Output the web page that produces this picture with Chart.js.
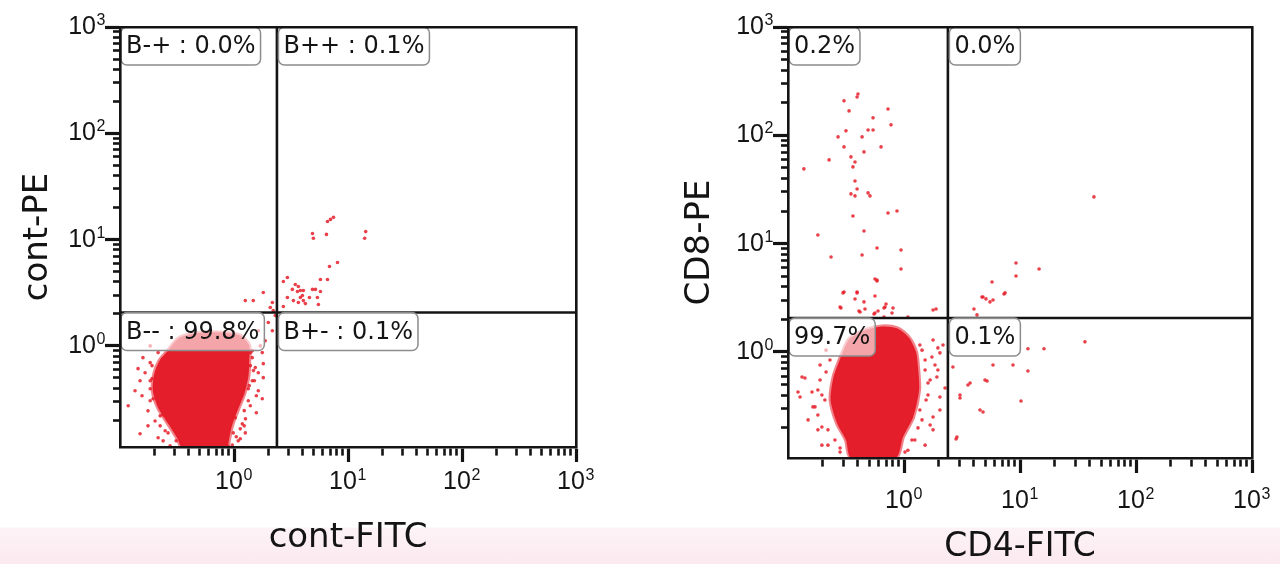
<!DOCTYPE html>
<html><head><meta charset="utf-8">
<script src="https://cdn.jsdelivr.net/npm/chart.js@4/dist/chart.umd.min.js"></script>
<style>
html,body{margin:0;padding:0;}
body{width:1280px;height:564px;overflow:hidden;position:relative;
 background:linear-gradient(to bottom,#ffffff 0px,#ffffff 527px,#fdf3f6 528px,#fbe9ef 564px);}
.c{position:absolute;top:0;width:640px;height:564px;}
canvas{display:block;}
</style></head><body>
<div class="c" style="left:0"><canvas id="leftPlot" width="640" height="564"></canvas></div>
<div class="c" style="left:640px"><canvas id="rightPlot" width="640" height="564"></canvas></div>
<script>
// ---------- tick values / labels ----------
const TICK_VALUES = [0.2,0.3,0.4,0.5,0.6,0.7,0.8,0.9,1,2,3,4,5,6,7,8,9,10,20,30,40,50,60,70,80,90,100,200,300,400,500,600,700,800,900,1000];
const MAJOR_TICK_VALUES = [1,10,100,1000];
const MAJOR_TICK_BASES = ['10','10','10','10'];
const MAJOR_TICK_EXPONENTS = ['0','1','2','3'];

// ---------- left panel (control) ----------
const leftAxisTitles = ['cont-FITC','cont-PE'];
const leftQuadrantTexts = ['B-+ : 0.0%','B++ : 0.1%','B-- : 99.8%','B+- : 0.1%'];
const leftGate = [2.38, 2.06];
const leftRangeX = [0.1, 1000];
const leftRangeY = [0.112, 1000];
// dense core of events (outline of the solid region)
const leftCoreOutline = [[0.255,0.865],[0.330,1.19],[0.505,1.33],[0.838,1.33],[1.15,1.24],[1.36,1.01],[1.36,0.727],[1.34,0.525],[1.24,0.363],[1.09,0.256],[0.96,0.177],[0.90,0.128],[0.87,0.112],[0.35,0.112],[0.32,0.134],[0.265,0.185],[0.216,0.262],[0.194,0.379],[0.200,0.549],[0.222,0.727]];
// individual sparse events
const leftEvents = [[0.144,0.611],[0.1355,0.379],[0.176,0.177],[0.159,0.776],[1.446,0.776],[1.537,0.625],[1.633,0.379],[1.807,0.503],[1.334,0.305],[1.182,0.185],[1.089,0.128],[0.216,0.137],[0.249,0.159],[0.150,0.149],[1.807,0.681],[1.446,0.471],[1.026,0.211],[0.184,1.0],[1.70,1.0],[0.184,0.305],[1.256,0.152],
[2.0,1.66],[2.17,1.39],[1.88,1.12],[1.633,1.39],[1.77,0.865],
[1.40,0.865],[1.48,0.586],[1.36,0.423],[1.23,0.246],[0.985,0.152],[0.412,0.117],[0.311,0.159],[0.239,0.225],[0.195,0.318],[0.184,0.471],[0.191,0.652],[0.216,0.865],[0.118,0.274],[1.57,0.235],[1.77,0.318],
[0.166,0.560],[0.184,0.396],[0.156,0.340],[0.176,0.245],[0.203,0.197],[0.225,0.177],[0.184,0.696],[0.216,0.611],[0.191,0.492],[0.150,0.471],[0.239,0.128],[0.275,0.115],[0.311,0.128],[0.225,0.220],[0.264,0.152],
[1.39,0.652],[1.51,0.471],[1.57,0.340],[1.39,0.274],[1.26,0.206],[1.135,0.166],[1.047,0.140],[1.334,0.396],[1.633,0.560],[1.446,0.903],[1.23,0.177],[0.966,0.117],[0.890,0.113],[1.135,0.134],
[1.256,2.67],[1.476,2.67],[1.807,3.18],[2.17,2.56],[2.08,2.30],[2.21,2.15],[2.30,1.93],[2.71,4.04],[2.94,4.40],[3.25,3.40],[3.45,3.78],[3.67,3.62],[3.82,3.32],[3.60,3.25],[4.06,3.32],[3.98,2.98],[3.82,2.85],[4.06,2.67],[3.32,2.67],[2.94,2.85],[4.88,3.40],[5.18,3.40],[5.73,3.25],[4.59,2.85],[5.39,2.85],[5.50,2.45],[4.23,2.50],[3.67,2.56],[2.71,2.35],[5.73,4.22],[6.61,4.22],[6.88,5.59],[8.09,6.10],[4.88,11.4],[4.97,10.3],[6.47,11.2],[6.61,14.8],[7.02,15.5],[7.46,16.2],[14.3,11.9],[14.0,10.3]];

// ---------- right panel (CD4 / CD8) ----------
const rightAxisTitles = ['CD4-FITC','CD8-PE'];
const rightQuadrantTexts = ['0.2%','0.0%','99.7%','0.1%'];
const rightGate = [2.39, 2.06];
const rightRangeX = [0.1, 1000];
const rightRangeY = [0.105, 1000];
const rightCoreOutline = [[0.285,0.899],[0.335,1.30],[0.455,1.58],[0.646,1.72],[0.880,1.65],[1.10,1.36],[1.27,1.0],[1.32,0.727],[1.35,0.446],[1.20,0.251],[0.980,0.164],[0.850,0.105],[0.350,0.105],[0.316,0.154],[0.264,0.221],[0.233,0.360],[0.247,0.588]];
const rightEvents = [[0.401,241],[0.394,226],[0.304,208],[0.336,168],[0.728,175],[0.541,145],[0.773,125],[0.316,110],[0.490,112],[0.541,112],[0.270,96.7],[0.435,96.7],[0.304,78.2],[0.634,78.2],[0.452,70.3],[0.226,59.3],[0.349,63.2],[0.378,56.8],[0.363,51.1],[0.137,49.0],[0.378,37.9],[0.394,32.0],[0.349,28.8],[0.378,27.6],[0.490,29.4],[0.509,27.6],[0.363,18.0],[0.728,19.2],[0.870,20.0],[0.181,12.0],[0.452,13.1],[0.585,9.12],[0.942,8.75],[0.235,7.54],[0.435,7.86],[0.942,5.84],[0.562,4.72],[0.585,4.52],[0.304,3.58],[0.394,3.58],[0.562,3.29],[0.378,3.08],[0.452,2.90],[0.700,2.77],[0.286,2.55],[0.672,2.55],[0.804,2.55],[0.461,2.49],[0.409,2.39],[0.597,2.39],[1.89,2.49],[0.788,2.29],[0.551,2.24],[0.672,2.10],[1.08,2.10],[0.298,3.51],[0.394,3.51],[0.281,2.60],[0.418,2.34],[0.562,2.29],[0.686,2.60],[1.78,2.44],[0.585,4.62],
[43.4,27.0],[9.24,6.63],[14.6,5.84],[9.24,5.03],[5.74,4.43],[7.28,3.43],[4.80,3.22],[5.09,3.09],[5.51,2.90],[4.01,2.49],[4.26,2.20],[4.70,3.22],[5.85,3.02],[7.43,3.51],
[36.3,1.24],[11.7,1.07],[16.1,1.07],[8.70,0.759],[11.7,0.668],[10.2,0.353],[4.80,0.279],[3.04,0.376],[5.20,0.540],[3.56,0.496],[5.85,0.759],[2.81,0.157],[2.86,0.164],[3.04,0.401],[2.64,0.727],[3.71,0.517],[4.52,0.291],[4.99,0.551],
[1.78,1.29],[2.04,0.98],[1.61,0.517],[1.78,0.251],[0.132,0.588],[0.122,0.427],[0.171,0.311],[0.196,0.203],[0.140,0.575],[0.127,0.384],[0.181,0.191],[0.196,0.138],[1.74,0.90],[1.92,0.588],[2.04,0.384],[1.78,0.191],[1.52,0.138],[1.96,0.682],[0.181,0.446],[0.164,0.311],[1.52,0.844],[1.61,0.401],[1.43,0.236],[1.24,0.154],[2.17,1.16],[2.26,0.465],[0.213,1.04],[0.189,0.759],[0.221,0.138],[1.02,0.119],[0.281,0.119],
[0.189,0.551],[0.161,0.427],[0.208,0.360],[0.181,0.262],[0.221,0.191],[0.254,0.154],[0.281,0.130],[0.213,0.653],[0.230,0.844],[0.196,0.401],[0.149,0.236],
[1.43,1.04],[1.52,0.682],[1.68,0.551],[1.55,0.360],[1.37,0.291],[1.32,0.199],[1.17,0.154],[1.08,0.124],[1.85,0.759],[2.04,0.291],[1.68,0.212],[1.37,1.16],[1.96,1.09]];

// ---------- styling ----------
const INK = '#141414';
const EVENT_RED = 'rgba(229,30,42,0.85)';
const CORE_RED = '#e41e2a';
const CORE_EDGE = 'rgba(229,30,42,0.55)';
const TITLE_FONT = "'DejaVu Sans', sans-serif";
const LABEL_FONT = "'DejaVu Sans', sans-serif";
const TICK_FONT = "'Liberation Sans', sans-serif";
const TICK_SIZE = 25;
const TICK_LEN = 15;
const isMajor = v => MAJOR_TICK_VALUES.indexOf(v) >= 0;
const toXY = arr => arr.map(p => ({x: p[0], y: p[1]}));

const quadrantLabels = {
  id: 'quadrantLabels',
  afterDatasetsDraw(chart, args, opts) {
    const {ctx} = chart;
    const xs = chart.scales.x, ys = chart.scales.y;
    const g = opts.gate;
    const anchors = [[xs.min, ys.max],[g[0], ys.max],[xs.min, g[1]],[g[0], g[1]]];
    ctx.save();
    ctx.font = '24px ' + LABEL_FONT;
    opts.texts.forEach((t, i) => {
      const a = anchors[i];
      const px = xs.getPixelForValue(a[0]) + (a[0] === xs.min ? 1 : 1.5);
      const py = ys.getPixelForValue(a[1]);
      const w = ctx.measureText(t).width + 10;
      const h = 38;
      ctx.beginPath();
      ctx.roundRect(px, py, w, h, 6);
      ctx.fillStyle = 'rgba(255,255,255,0.6)';
      ctx.fill();
      ctx.lineWidth = 1.5;
      ctx.strokeStyle = '#8c8c8c';
      ctx.stroke();
      ctx.fillStyle = INK;
      ctx.textBaseline = 'middle';
      ctx.textAlign = 'left';
      ctx.fillText(t, px + 5, py + h / 2 + 1);
    });
    ctx.restore();
  }
};

// superscript exponents next to the "10" major tick labels
const tickExponents = {
  id: 'tickExponents',
  afterDraw(chart, args, opts) {
    const ctx = chart.ctx;
    ctx.save();
    ctx.fillStyle = INK;
    ['x', 'y'].forEach(id => {
      const s = chart.scales[id];
      s.ticks.forEach(t => {
        const i = MAJOR_TICK_VALUES.indexOf(t.value);
        if (i < 0) return;
        const pix = s.getPixelForValue(t.value);
        ctx.font = TICK_SIZE + 'px ' + TICK_FONT;
        ctx.textBaseline = 'middle';
        const m = ctx.measureText(MAJOR_TICK_BASES[i]);
        let xRight, yMid;
        if (id === 'x') { xRight = pix + opts.xLabelOffset + m.width / 2; yMid = s.top + TICK_LEN + opts.xPad + TICK_SIZE * 0.6; }
        else { xRight = s.right - TICK_LEN - opts.yPad; yMid = pix; }
        const digitTop = yMid - m.actualBoundingBoxAscent;
        ctx.font = '16px ' + TICK_FONT;
        ctx.textBaseline = 'alphabetic';
        ctx.textAlign = 'left';
        const me = ctx.measureText(MAJOR_TICK_EXPONENTS[i]);
        ctx.fillText(MAJOR_TICK_EXPONENTS[i], xRight + 0.5, digitTop - 3 + me.actualBoundingBoxAscent);
      });
    });
    ctx.restore();
  }
};

function logAxis(o) {
  return {
    type: 'logarithmic', position: o.position, min: o.range[0], max: o.range[1],
    afterBuildTicks: s => { s.ticks = TICK_VALUES.filter(v => v >= o.range[0] && v <= o.range[1]).map(v => ({value: v, major: isMajor(v)})); },
    afterFit: s => { if (o.position === 'bottom') s.height = o.size; else s.width = o.size; },
    ticks: {
      autoSkip: false, maxRotation: 0, minRotation: 0, padding: o.labelPad, color: INK,
      labelOffset: o.labelOffset || 0,
      font: {family: TICK_FONT, size: TICK_SIZE},
      callback: v => { const i = MAJOR_TICK_VALUES.indexOf(v); return i >= 0 ? MAJOR_TICK_BASES[i] : ''; }
    },
    grid: {
      display: true, drawOnChartArea: false, drawTicks: true, tickLength: TICK_LEN, tickColor: INK,
      tickWidth: c => isMajor(c.tick.value) ? 3.2 : 2.6,
      tickBorderDash: c => isMajor(c.tick.value) ? [] : [7, 100],
      tickBorderDashOffset: c => (o.position === 'left' && !isMajor(c.tick.value)) ? 107 - (TICK_LEN - 7) : 0
    },
    border: {display: true, color: INK, width: 2.6, z: 1},
    title: {display: true, text: o.title, color: INK, font: {family: TITLE_FONT, size: o.titleSize, lineHeight: 1},
            padding: o.position === 'bottom' ? {top: 0, bottom: o.titlePad} : {top: o.titlePad, bottom: 0}}
  };
}
function frameAxis(position) {
  return {
    type: 'linear', position: position, display: true,
    grid: {display: false, drawTicks: false}, ticks: {display: false},
    border: {display: true, color: INK, width: 2.6, z: 1},
    afterFit: s => { if (position === 'top') s.height = 0; else s.width = 0; }
  };
}

function makePlot(id, p) {
  const gx = p.gate[0], gy = p.gate[1];
  return new Chart(document.getElementById(id), {
    type: 'scatter',
    data: {
      datasets: [
        {data: [{x: gx, y: p.rangeY[0]}, {x: gx, y: p.rangeY[1]}], showLine: true, borderColor: INK, borderWidth: 2.6, pointRadius: 0, order: 0},
        {data: [{x: p.rangeX[0], y: gy}, {x: p.rangeX[1], y: gy}], showLine: true, borderColor: INK, borderWidth: 2.6, pointRadius: 0, order: 0},
        {data: toXY(p.events), showLine: false, pointRadius: 1.8, pointBorderWidth: 0, backgroundColor: EVENT_RED, order: 1},
        {data: toXY(p.core.concat([p.core[0]])), showLine: true, fill: 'shape', tension: 0.25,
         borderColor: CORE_EDGE, backgroundColor: CORE_RED, borderWidth: 4, pointRadius: 0, order: 2}
      ]
    },
    options: {
      responsive: false, animation: false, events: [],
      layout: {padding: p.padding},
      plugins: {legend: {display: false}, tooltip: {enabled: false},
                quadrantLabels: {texts: p.texts, gate: p.gate},
                tickExponents: {xLabelOffset: -5, xPad: p.xLabelPad, yPad: 9}},
      scales: {
        x: logAxis({position: 'bottom', range: p.rangeX, size: p.xSize, labelPad: p.xLabelPad, labelOffset: -5, title: p.titles[0], titleSize: p.xTitleSize, titlePad: p.xTitlePad}),
        y: logAxis({position: 'left', range: p.rangeY, size: p.ySize, labelPad: 9, title: p.titles[1], titleSize: 34, titlePad: p.yTitlePad}),
        x2: frameAxis('top'),
        y2: frameAxis('right')
      }
    },
    plugins: [quadrantLabels, tickExponents]
  });
}

makePlot('leftPlot', {
  gate: leftGate, rangeX: leftRangeX, rangeY: leftRangeY, core: leftCoreOutline, events: leftEvents,
  texts: leftQuadrantTexts, titles: leftAxisTitles,
  padding: {top: 27, right: 64, bottom: 0, left: 0},
  xSize: 117, ySize: 120, xLabelPad: 5, xTitleSize: 34, xTitlePad: 9, yTitlePad: 21
});
makePlot('rightPlot', {
  gate: rightGate, rangeX: rightRangeX, rangeY: rightRangeY, core: rightCoreOutline, events: rightEvents,
  texts: rightQuadrantTexts, titles: rightAxisTitles,
  padding: {top: 27, right: 28, bottom: 0, left: 0},
  xSize: 106, ySize: 148, xLabelPad: 13, xTitleSize: 33, xTitlePad: 0, yTitlePad: 43
});
</script>
</body></html>
